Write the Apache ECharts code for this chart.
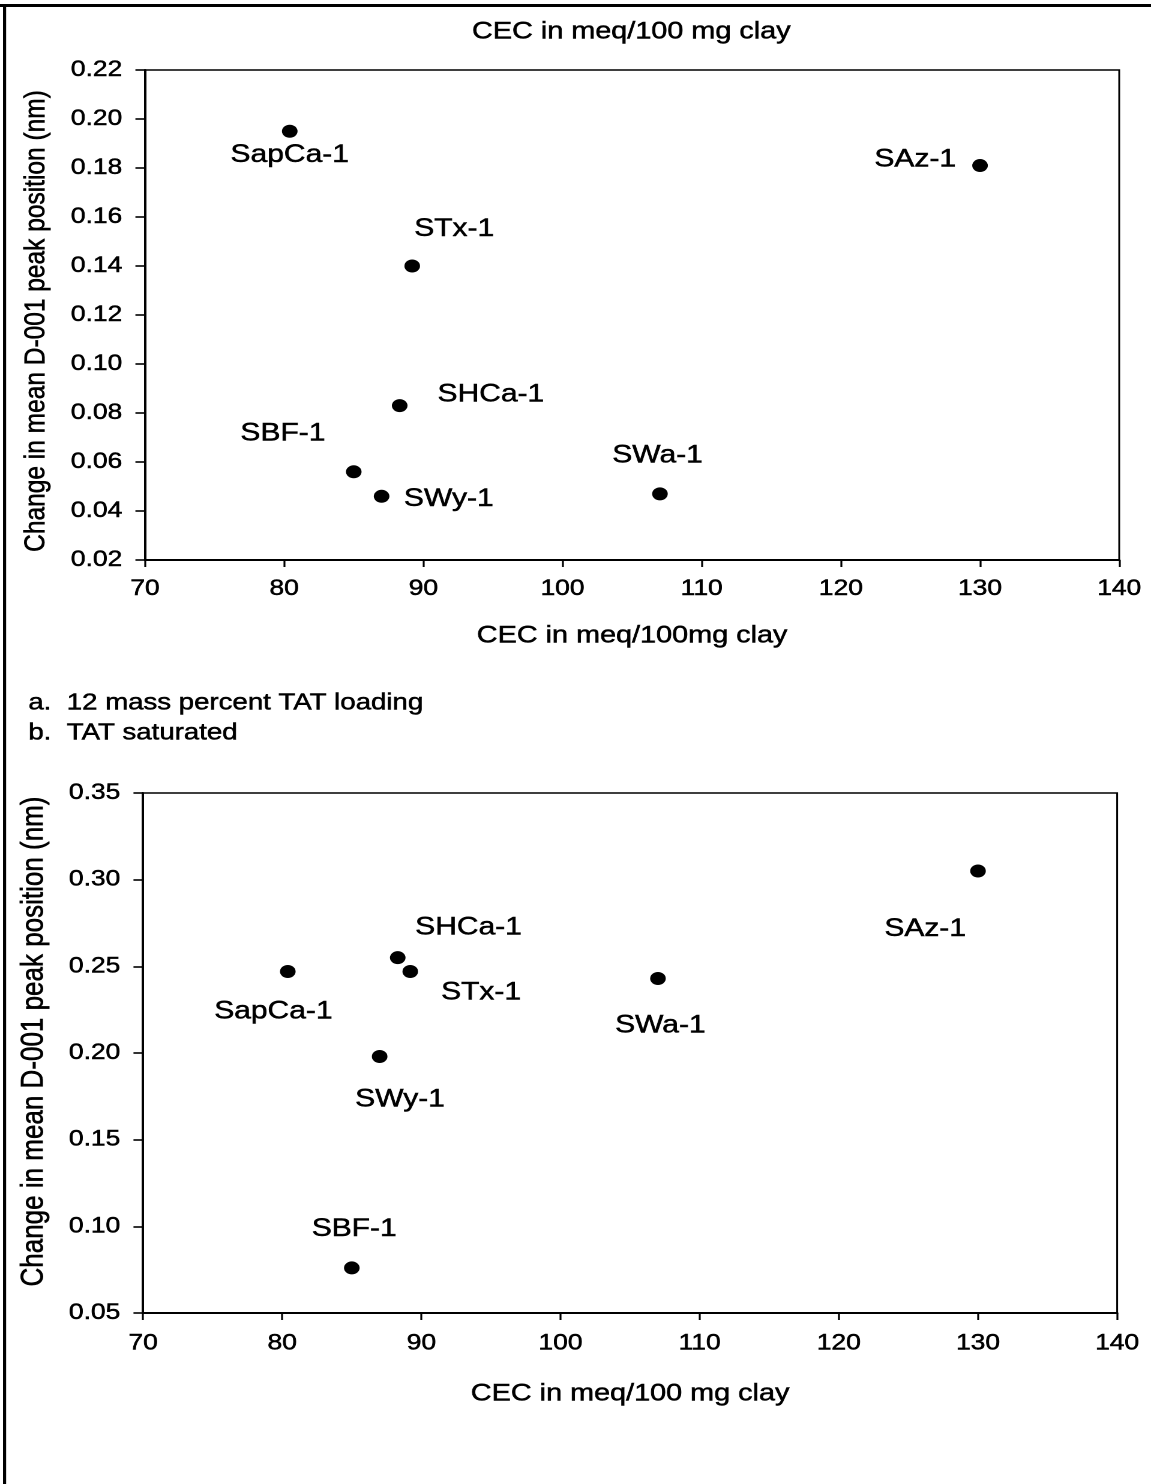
<!DOCTYPE html>
<html>
<head>
<meta charset="utf-8">
<script src="https://cdn.jsdelivr.net/npm/echarts@6/dist/echarts.min.js"></script>
<style>
html,body{margin:0;padding:0;background:#fff;}
#wrap{width:1151px;height:1484px;overflow:hidden;position:relative;background:#fff;}
#c{width:959px;height:1484px;transform:scaleX(1.20021);transform-origin:0 0;}
</style>
</head>
<body>
<div id="wrap"><div id="c"></div></div>
<script>
// ---- data ----
const samples = ['SapCa-1', 'SAz-1', 'STx-1', 'SHCa-1', 'SBF-1', 'SWy-1', 'SWa-1'];
const cec = [80.4, 130, 89.2, 88.3, 85, 87, 107];
const shiftA = [0.195, 0.181, 0.140, 0.083, 0.056, 0.046, 0.047]; // 12 mass percent TAT loading
const shiftB = [0.247, 0.305, 0.247, 0.255, 0.076, 0.198, 0.243]; // TAT saturated
const xTicks = [70, 80, 90, 100, 110, 120, 130, 140];
const yTicksA = [0.02, 0.04, 0.06, 0.08, 0.10, 0.12, 0.14, 0.16, 0.18, 0.20, 0.22];
const yTicksB = [0.05, 0.10, 0.15, 0.20, 0.25, 0.30, 0.35];
const topTitle = 'CEC in meq/100 mg clay';
const xNameA = 'CEC in meq/100mg clay';
const xNameB = 'CEC in meq/100 mg clay';
const yName = 'Change in mean D-001 peak position (nm)';
const notes = [['a.', '12 mass percent TAT loading'], ['b.', 'TAT saturated']];

// ---- label placement (layout only) ----
const labelOffA = [[0, 24], [-54, -6], [35, -37], [76, -11], [-59, -38], [56, 3], [-2, -38]];
const labelOffB = [[-12, 40], [-44, 58], [59, 21], [59, -30], [2, -39], [17, 43], [2, 47]];

const FONT = '"Liberation Sans", Arial, Helvetica, sans-serif';
const INK = {color: '#000', textBorderColor: '#000', textBorderWidth: 0.5};
const chart = echarts.init(document.getElementById('c'), null, {renderer: 'canvas', devicePixelRatio: 2});

function xAxisDef(gridIndex, name, gap, margin) {
  return {
    type: 'value', gridIndex: gridIndex,
    min: xTicks[0], max: xTicks[xTicks.length - 1], interval: xTicks[1] - xTicks[0],
    name: name, nameLocation: 'middle', nameGap: gap,
    nameTextStyle: Object.assign({fontFamily: FONT, fontSize: 24}, INK),
    axisLine: {show: true, onZero: false, lineStyle: {color: '#000', width: 2}},
    axisTick: {show: true, inside: false, length: 7, lineStyle: {color: '#000', width: 1.6}},
    axisLabel: Object.assign({fontFamily: FONT, fontSize: 22, margin: margin}, INK),
    splitLine: {show: false}
  };
}
function yAxisDef(gridIndex, ticks, nameSize, namePad) {
  return {
    type: 'value', gridIndex: gridIndex,
    min: ticks[0], max: ticks[ticks.length - 1], interval: +(ticks[1] - ticks[0]).toFixed(4),
    name: yName, nameLocation: 'middle', nameGap: 78,
    nameTextStyle: Object.assign({fontFamily: FONT, fontSize: nameSize, padding: namePad}, INK),
    axisLine: {show: true, onZero: false, lineStyle: {color: '#000', width: 2}},
    axisTick: {show: true, inside: false, length: 8, lineStyle: {color: '#000', width: 1.6}},
    axisLabel: Object.assign({fontFamily: FONT, fontSize: 22, margin: 19,
      formatter: v => v.toFixed(2)}, INK),
    splitLine: {show: false}
  };
}
function seriesDef(idx, ys, offs) {
  return {
    type: 'scatter', xAxisIndex: idx, yAxisIndex: idx,
    symbol: 'circle', symbolSize: 13,
    itemStyle: {color: '#000', opacity: 1},
    label: Object.assign({show: true, position: 'inside', formatter: '{b}',
      fontFamily: FONT, fontSize: 25, align: 'center', verticalAlign: 'middle'}, INK),
    emphasis: {disabled: true},
    data: samples.map((s, i) => ({name: s, value: [cec[i], ys[i]], label: {offset: offs[i]}}))
  };
}

const txt = (t, x, y, size, align) => ({type: 'text', x: x, y: y, style: {text: t, fontFamily: FONT, fontSize: size,
  fill: '#000', stroke: '#000', lineWidth: 0.5, align: align, verticalAlign: 'middle'}});
const graphics = [
  {type: 'line', shape: {x1: 0, y1: 5.5, x2: 1000, y2: 5.5}, style: {stroke: '#000', lineWidth: 3}},
  {type: 'line', shape: {x1: 3.8, y1: 4, x2: 3.8, y2: 1500}, style: {stroke: '#000', lineWidth: 2.6}},
  txt(topTitle, 526, 32, 24, 'center')
];
notes.forEach((n, i) => {
  graphics.push(txt(n[0], 23.6, 703 + 30 * i, 23, 'left'));
  graphics.push(txt(n[1], 55.6, 703 + 30 * i, 23, 'left'));
});

chart.setOption({
  animation: false,
  backgroundColor: '#fff',
  grid: [
    {left: 120.8, right: 26.5, top: 70, height: 490, show: true, borderColor: '#000', borderWidth: 1.5, backgroundColor: 'transparent'},
    {left: 119.2, right: 28.2, top: 793, height: 520, show: true, borderColor: '#000', borderWidth: 1.5, backgroundColor: 'transparent'}
  ],
  xAxis: [xAxisDef(0, xNameA, 64, 18), xAxisDef(1, xNameB, 69, 19.5)],
  yAxis: [yAxisDef(0, yTicksA, 24.5, [0, 12, 0, 0]), yAxisDef(1, yTicksB, 26, [0, 0, 0, 23])],
  series: [seriesDef(0, shiftA, labelOffA), seriesDef(1, shiftB, labelOffB)],
  graphic: graphics
});
</script>
</body>
</html>
